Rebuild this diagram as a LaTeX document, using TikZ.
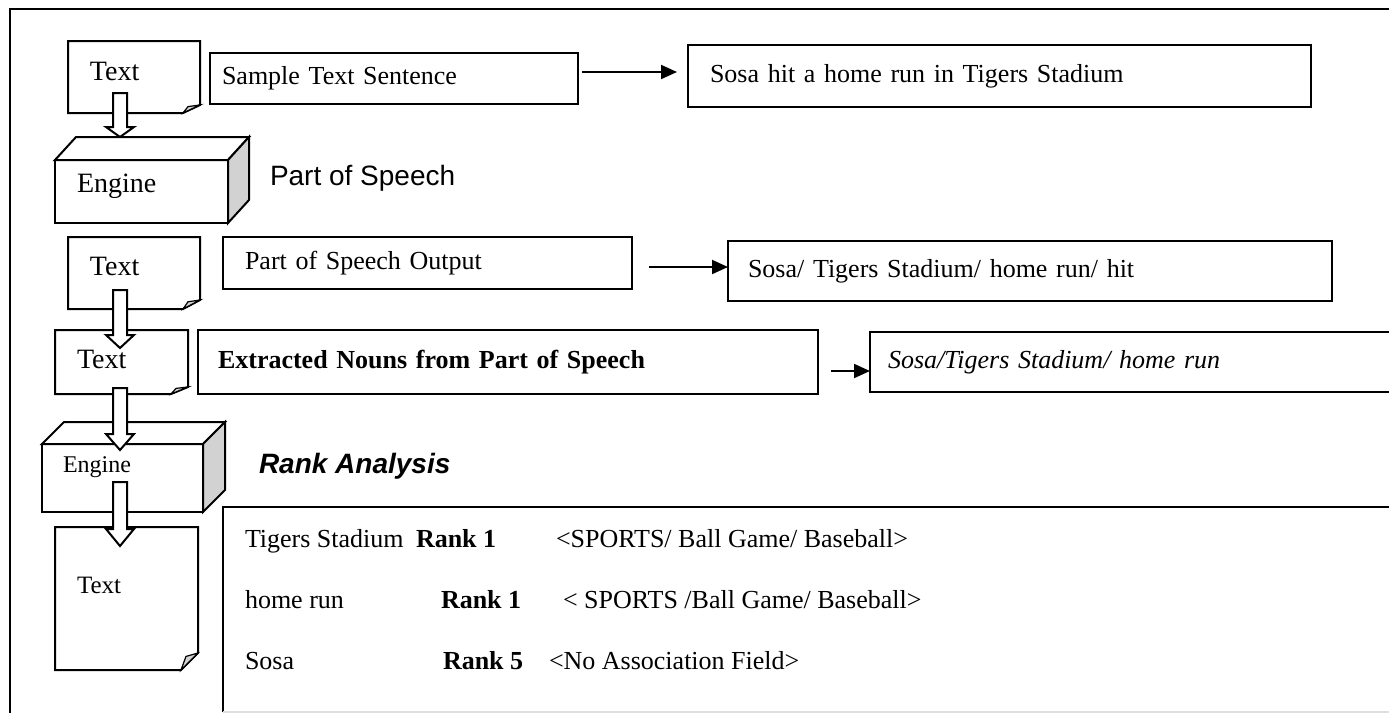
\documentclass[tikz,border=0pt]{standalone}
\usepackage{fontspec}
\setmainfont{Liberation Serif}
\newfontfamily\arialfont{Liberation Sans}
\usetikzlibrary{arrows.meta,calc}

% outline of a page with its corner folded
\newcommand{\docfold}[2]{%
  \draw (#1.north west) -- (#1.north east) -- ([yshift=#2]#1.south east)
    -- ([xshift=-8.5pt]#1.south east) -- (#1.south west) -- cycle;
  \filldraw[fill=gray!35,line width=0.6pt] ([xshift=-8.5pt]#1.south east)
    -- ([shift={(-6pt,0.8*#2)}]#1.south east) -- ([yshift=#2]#1.south east) -- cycle;}

% top and side of a box
\newcommand{\enginebox}[3]{%
  \filldraw[fill=white] (#1.north west) -- ++(#2,-#3)
    -- ([shift={(#2,-#3)}]#1.north east) -- (#1.north east) -- cycle;
  \filldraw[fill=gray!35] (#1.north east) -- ++(#2,-#3)
    -- ([shift={(#2,-#3)}]#1.south east) -- (#1.south east) -- cycle;}

% white block arrow going down, #3 = length of its head
\newcommand{\hollowarrow}[3]{%
  \filldraw[fill=white] let \p1=(#1), \p2=(#2) in
    (\x1-3.5pt,\y1) -- (\x1+3.5pt,\y1) -- (\x1+3.5pt,\y2+#3)
    -- (\x1+7pt,\y2+#3) -- (\x1,\y2) -- (\x1-7pt,\y2+#3)
    -- (\x1-3.5pt,\y2+#3) -- cycle;}

\begin{document}
\begin{tikzpicture}[x=0.5pt,y=-0.5pt,line width=1pt,
  >={Triangle[length=8pt,width=7pt]},
  doc node/.style={anchor=north west,outer sep=0pt,inner xsep=11pt,
    inner ysep=0pt,align=left,font=\fontsize{14}{16}\selectfont},
  engine node/.style={doc node,draw,fill=white},
  box node/.style={draw,anchor=north west,outer sep=0pt,inner ysep=0pt,
    align=left,font=\fontsize{13}{15}\selectfont},
  row/.style={anchor=base west,inner sep=0pt,font=\fontsize{13}{15}\selectfont},
  heading/.style={anchor=base west,inner sep=0pt,
    font=\arialfont\fontsize{14}{16}\selectfont}]

  \clip (0,0) rectangle (1389,713);
  \draw (10,713) -- (10,9) -- (1395,9);

  \node[doc node,text width=44pt,minimum height=36pt,text depth=6pt] (doc1) at (68,41) {Text};
  \node[doc node,text width=44pt,minimum height=36pt,text depth=7pt] (doc2) at (68,237) {Text};
  \node[doc node,text width=44.5pt,minimum height=32pt,text depth=3pt] (doc3) at (55,330) {Text};
  \node[doc node,text width=49.5pt,minimum height=71.5pt,text depth=13pt,
    font=\fontsize{12.5}{15}\selectfont] (doc4) at (55,527) {Text};
  \docfold{doc1}{4pt}
  \docfold{doc2}{4.5pt}
  \docfold{doc3}{3.5pt}
  \docfold{doc4}{8.5pt}

  \node[engine node,text width=64.5pt,minimum height=31.5pt,text depth=8pt] (eng1) at (55,160) {Engine};
  \enginebox{eng1}{21}{23}
  \node[engine node,text width=59.5pt,inner xsep=10.5pt,minimum height=34pt,text depth=13pt,
    font=\fontsize{12}{14}\selectfont] (eng2) at (42,444) {Engine};
  \enginebox{eng2}{22}{22}

  \hollowarrow{[shift={(52,-20)}]doc1.south west}{[shift={(65,-23)}]eng1.north west}{5pt}
  \hollowarrow{[shift={(52,-19)}]doc2.south west}{[shift={(65,18)}]doc3.north west}{6.5pt}
  \hollowarrow{[shift={(65,-6)}]doc3.south west}{[shift={(78,6)}]eng2.north west}{8pt}
  \hollowarrow{[shift={(78,-30)}]eng2.south west}{[shift={(65,19)}]doc4.north west}{8.5pt}

  \node[box node,text width=172pt,inner xsep=6pt,minimum height=25.5pt] (sample) at (210,53) {Sample Text Sentence};
  \node[box node,text width=289.5pt,inner xsep=11pt,minimum height=31pt] (sosa1) at (688,45) {Sosa hit a home run in Tigers Stadium};
  \node[box node,text width=182.5pt,inner xsep=11pt,minimum height=26pt] (posout) at (223,237) {Part of Speech Output};
  \node[box node,text width=282pt,inner xsep=10pt,minimum height=30pt] (sosa2) at (728,241) {Sosa/ Tigers Stadium/ home run/ hit};
  \node[box node,text width=290pt,inner xsep=10pt,minimum height=32pt,
    font=\fontsize{13}{15}\selectfont\bfseries] (nouns) at (198,330) {Extracted Nouns from Part of Speech};
  \node[box node,text width=247pt,inner xsep=9pt,minimum height=30pt,
    font=\fontsize{13}{15}\selectfont\itshape] (sosa3) at (870,332) {Sosa/Tigers Stadium/ home run};

  \coordinate (a1) at ([shift={(2pt,3.25pt)}]sample.east);
  \coordinate (a2) at ([shift={(8.5pt,-2pt)}]posout.east);
  \coordinate (a3) at ([shift={(6.5pt,-4.5pt)}]nouns.east);
  \draw[->,shorten >=5.5pt] (a1) -- (a1 -| sosa1.west);
  \draw[->] (a2) -- (a2 -| sosa2.west);
  \draw[->] (a3) -- (a3 -| sosa3.west);

  \node[heading] (pos) at (269,185) {Part of Speech};
  \node[heading,font=\arialfont\fontsize{14}{16}\selectfont\bfseries\itshape] (ranking) at (258,473) {Rank Analysis};

  \node[anchor=north west,outer sep=0pt,minimum width=588.5pt,minimum height=102.5pt] (rank) at (223,507) {};
  \draw (rank.south west) -- (rank.north west) -- (rank.north east);
  \draw[gray!25] (rank.south west) -- (rank.south east);

  \node[row] (r1name) at (244,547) {Tigers Stadium};
  \node[row,font=\fontsize{13}{15}\selectfont\bfseries] (r1rank) at (415,547) {Rank 1};
  \node[row] (r1field) at (555,547) {<SPORTS/ Ball Game/ Baseball>};
  \node[row] (r2name) at (244,608) {home run};
  \node[row,font=\fontsize{13}{15}\selectfont\bfseries] (r2rank) at (440,608) {Rank 1};
  \node[row] (r2field) at (562,608) {< SPORTS /Ball Game/ Baseball>};
  \node[row] (r3name) at (244,669) {Sosa};
  \node[row,font=\fontsize{13}{15}\selectfont\bfseries] (r3rank) at (442,669) {Rank 5};
  \node[row] (r3field) at (548,669) {<No Association Field>};
\end{tikzpicture}
\end{document}
